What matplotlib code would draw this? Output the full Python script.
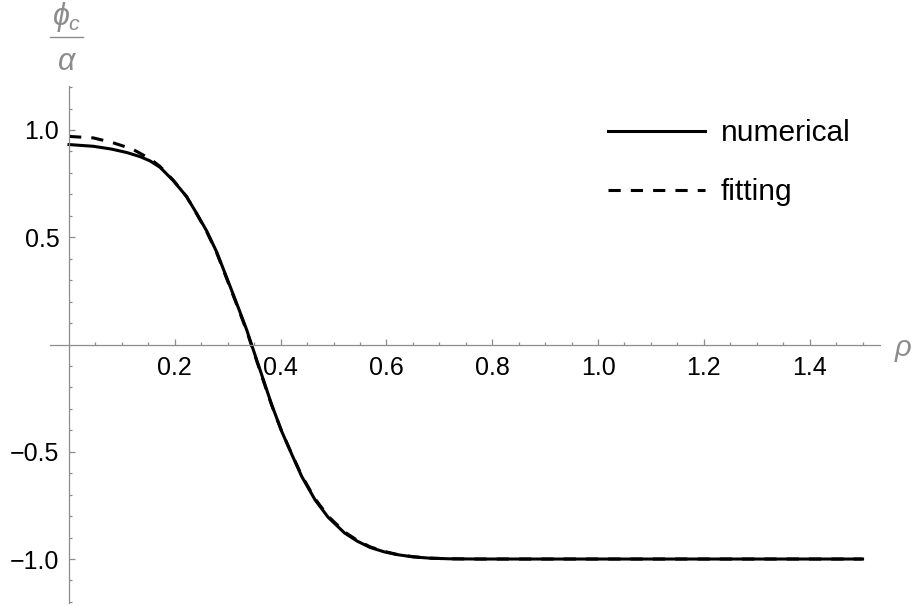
import numpy as np
import matplotlib
matplotlib.use("Agg")
import matplotlib.pyplot as plt
from matplotlib.ticker import FixedLocator
from matplotlib.lines import Line2D

# ---- data ----
rho_num = [0.0, 0.046, 0.080, 0.109, 0.134, 0.153, 0.172, 0.197, 0.222, 0.241, 0.260,
           0.279, 0.298, 0.317, 0.336, 0.345, 0.364, 0.383, 0.402, 0.421, 0.440,
           0.465, 0.490, 0.521, 0.545, 0.569, 0.595, 0.619, 0.650, 0.682, 0.720,
           0.776, 0.850, 1.0, 1.2, 1.5]
phi_num = [0.932, 0.924, 0.911, 0.895, 0.876, 0.856, 0.826, 0.764, 0.690, 0.612, 0.530,
           0.432, 0.312, 0.191, 0.067, 0.0, -0.140, -0.280, -0.405, -0.512, -0.616,
           -0.724, -0.806, -0.879, -0.917, -0.946, -0.966, -0.979, -0.990, -0.996, -0.999,
           -1.0, -1.0, -1.0, -1.0, -1.0]

rho_fit = [0.0, 0.046, 0.081, 0.119, 0.153, 0.172, 0.197, 0.222, 0.241, 0.260,
           0.279, 0.298, 0.317, 0.336, 0.345, 0.364, 0.383, 0.402, 0.421, 0.440,
           0.465, 0.490, 0.521, 0.545, 0.569, 0.595, 0.619, 0.650, 0.682, 0.720,
           0.776, 0.850, 1.0, 1.2, 1.5]
phi_fit = [0.970, 0.963, 0.942, 0.912, 0.866, 0.830, 0.766, 0.690, 0.610, 0.527,
           0.428, 0.307, 0.186, 0.062, -0.005, -0.145, -0.283, -0.405, -0.510, -0.612,
           -0.719, -0.801, -0.874, -0.913, -0.943, -0.964, -0.978, -0.989, -0.996, -0.999,
           -1.0, -1.0, -1.0, -1.0, -1.0]

x_major = [0.2, 0.4, 0.6, 0.8, 1.0, 1.2, 1.4]
x_labels = ["0.2", "0.4", "0.6", "0.8", "1.0", "1.2", "1.4"]
y_major = [-1.0, -0.5, 0.5, 1.0]
y_labels = ["\u22121.0", "\u22120.5", "0.5", "1.0"]
series_names = ["numerical", "fitting"]

plt.rcParams['font.family'] = ['Liberation Sans', 'DejaVu Sans']
plt.rcParams['mathtext.fontset'] = 'custom'
plt.rcParams['mathtext.it'] = 'Liberation Sans:italic'
plt.rcParams['mathtext.rm'] = 'Liberation Sans'

fig = plt.figure(figsize=(9.17, 6.08), dpi=100)
ax = fig.add_axes([50/917, 1 - 603/608, 830/917, (603-86)/608])
ax.set_xlim(-0.036, 1.533)
ax.set_ylim(-1.205, 1.205)

axis_gray = '#8c8c8c'
ax.plot(rho_num, phi_num, color='black', lw=2.2, label=series_names[0],
        solid_joinstyle='round')
ax.plot(rho_fit, phi_fit, color='black', lw=2.2, linestyle=(0, (4, 3.3)),
        label=series_names[1])

for s in ['top', 'right']:
    ax.spines[s].set_visible(False)
ax.spines['left'].set_position(('data', 0))
ax.spines['bottom'].set_position(('data', 0))
for s in ['left', 'bottom']:
    ax.spines[s].set_color(axis_gray)
    ax.spines[s].set_linewidth(0.9)

ax.xaxis.set_major_locator(FixedLocator(x_major))
ax.set_xticklabels(x_labels)
ax.xaxis.set_minor_locator(FixedLocator([v for v in np.arange(0.05, 1.52, 0.05)
                                         if min(abs(v - m) for m in x_major) > 1e-6]))
ax.yaxis.set_major_locator(FixedLocator(y_major))
ax.set_yticklabels(y_labels)
ax.yaxis.set_minor_locator(FixedLocator([v for v in np.arange(-1.2, 1.21, 0.1)
                                         if abs(v) > 1e-6 and min(abs(v - m) for m in y_major) > 1e-6]))

ax.tick_params(axis='both', which='both', direction='in', color=axis_gray, width=0.9,
               labelsize=18, labelcolor='black')
ax.tick_params(axis='x', which='major', length=4.5, pad=8)
ax.tick_params(axis='x', which='minor', length=2.5)
ax.tick_params(axis='y', which='major', length=4.5, pad=7)
ax.tick_params(axis='y', which='minor', length=2.5)

# axis labels (Mathematica style: rho at the right end, fraction phi_c/alpha on top)
fig.text(903/917, 1 - 350/608, r'$\rho$', color=axis_gray, fontsize=21,
         ha='center', va='center')
fig.text(67/917, 1 - 17/608, r'$\phi_c$', color=axis_gray, fontsize=22,
         ha='center', va='center')
fig.text(67/917, 1 - 62/608, r'$\alpha$', color=axis_gray, fontsize=22,
         ha='center', va='center')
fig.add_artist(Line2D([50/917, 83/917], [1 - 37/608, 1 - 37/608],
                      transform=fig.transFigure, color=axis_gray, lw=1.0))

leg = ax.legend(loc='upper left', bbox_to_anchor=(608/917, 1 - 119/608),
                bbox_transform=fig.transFigure, frameon=False, fontsize=21.5,
                handlelength=3.25, handletextpad=0.52, labelspacing=1.05,
                borderaxespad=0, borderpad=0)

fig.savefig('out.png', dpi=100)
